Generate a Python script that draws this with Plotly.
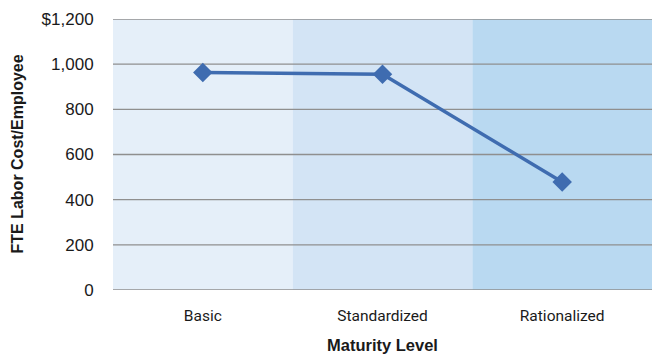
import plotly.graph_objects as go

# Maturity levels and FTE labor cost per employee (USD)
levels = ["Basic", "Standardized", "Rationalized"]
cost_per_employee = [963, 955, 478]

# Value-axis ticks
y_ticks = [0, 200, 400, 600, 800, 1000, 1200]
y_tick_text = ["0", "200", "400", "600", "800", "1,000", "$1,200"]

# Background band colours, one per maturity level
band_colors = ["#e5eff9", "#d3e4f5", "#b9d9f1"]

fig = go.Figure()

fig.add_trace(go.Scatter(
    x=levels,
    y=cost_per_employee,
    mode="lines+markers",
    line=dict(color="#3f6cb0", width=3.5),
    marker=dict(symbol="diamond", size=15, color="#3f6cb0"),
    showlegend=False,
    hoverinfo="x+y",
))

shapes = []
# Shaded column behind each category
for i, c in enumerate(band_colors):
    shapes.append(dict(
        type="rect", xref="x", yref="y",
        x0=i - 0.5, x1=i + 0.5, y0=0, y1=1200,
        fillcolor=c, line=dict(width=0), layer="below",
    ))
# Horizontal gridlines that run slightly past the left edge of the plot
for v in y_ticks:
    shapes.append(dict(
        type="line", xref="x", yref="y",
        x0=-0.5 - 8 / 180, x1=2.5, y0=v, y1=v,
        line=dict(color="#8f8f8f", width=1.4), layer="below",
    ))

fig.update_layout(
    width=652, height=355,
    margin=dict(l=113, r=0, t=19, b=65),
    paper_bgcolor="white",
    plot_bgcolor="white",
    shapes=shapes,
    font=dict(family="Liberation Sans, Arial, sans-serif", color="#1a1a1a"),
    xaxis=dict(
        type="category",
        range=[-0.5, 2.5],
        showgrid=False, zeroline=False, showline=False,
        ticks="outside", ticklen=11, tickcolor="rgba(0,0,0,0)",
        tickfont=dict(family="Liberation Sans Narrow, Roboto, sans-serif", size=15.5, color="#1a1a1a"),
    ),
    yaxis=dict(
        range=[0, 1200],
        tickvals=y_ticks, ticktext=y_tick_text,
        showgrid=False, zeroline=False, showline=False,
        ticks="outside", ticklen=15, tickcolor="rgba(0,0,0,0)",
        tickfont=dict(size=17, color="#1a1a1a"),
    ),
    annotations=[
        dict(text="<b>FTE Labor Cost/Employee</b>", xref="paper", yref="paper",
             x=-96 / 539, y=0.5, textangle=-90, showarrow=False,
             font=dict(size=16, color="#1a1a1a"), xanchor="center", yanchor="middle"),
        dict(text="<b>Maturity Level</b>", xref="paper", yref="paper",
             x=0.5, y=-55 / 271, showarrow=False,
             font=dict(size=16.5, color="#1a1a1a"), xanchor="center", yanchor="middle"),
    ],
)

fig.write_html("out.html")
